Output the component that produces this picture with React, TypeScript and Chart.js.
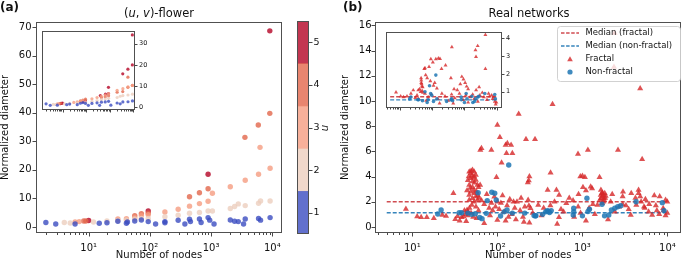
import React, { useEffect, useRef } from 'react';
import { Chart, registerables } from 'chart.js';

Chart.register(...registerables);

type P = [number, number];

const FONT = '"DejaVu Sans", Verdana, sans-serif';
const INK = '#111111';
const SPINE = '#505050';

// ---------------- Panel (a): (u,v)-flower ----------------
const uLevels = [1, 2, 3, 4, 5];
const uColors = [
  'rgba(59,76,192,0.8)',
  'rgba(236,206,190,0.8)',
  'rgba(245,156,129,0.8)',
  'rgba(226,102,75,0.8)',
  'rgba(180,4,38,0.8)',
];

const flowerU1: P[] = [[2, 1.6], [2.9, 1.05], [6, 1.05], [14.9, 1.3], [19.9, 1.5], [30, 2.0], [41.4, 1.3], [43, 1.75], [56.6, 2.1], [72.6, 2.45], [94, 1.9], [124, 1.05], [176, 1.9], [176, 1.5], [290, 2.35], [373, 1.05], [444, 2.7], [460, 1.9], [645, 2.8], [687, 1.6], [893, 3.3], [950, 2.4], [1117, 1.05], [2060, 2.45], [2420, 2.0], [2780, 1.9], [3390, 1.05], [3610, 2.8], [5960, 3.0], [6420, 2.4], [9200, 3.3]];
const flowerU2: P[] = [[4, 1.6], [5, 1.4], [12, 1.75], [19.9, 2.1], [30, 2.2], [41.4, 2.4], [56.6, 2.8], [72.6, 3.0], [94, 3.0], [176, 3.6], [290, 4.1], [444, 4.8], [645, 5.1], [893, 5.6], [1050, 5.6], [2060, 6.5], [2420, 7.2], [2780, 8.1], [3610, 7.5], [5960, 8.3], [6420, 9.1], [9200, 9.1]];
const flowerU3: P[] = [[6, 1.75], [7, 1.9], [30, 2.8], [41.4, 2.9], [56.6, 3.3], [72.6, 4.0], [94, 4.3], [176, 5.25], [290, 6.2], [444, 7.3], [645, 8.2], [893, 9.0], [1050, 11.8], [2060, 14.1], [3610, 16.4], [5960, 18.5], [9200, 20.6], [6300, 27.9]];
const flowerU4: P[] = [[8.3, 2.1], [9, 2.1], [56.6, 4.0], [72.6, 4.7], [94, 4.8], [444, 10.6], [645, 12.0], [893, 13.4], [3570, 31.4], [5900, 35.7], [9100, 39.8]];
const flowerU5: P[] = [[10, 2.3], [94, 5.6], [893, 18.5], [9100, 68.7]];

const flowerInsetU1: P[] = [[2, 1.6], [3, 0.9], [6, 1.0], [15, 1.2], [20, 1.5], [42, 1.2], [57, 1.9], [73, 2.2], [94, 1.8], [124, 0.9], [176, 1.8], [290, 2.1], [373, 0.9], [444, 2.4], [645, 2.5], [893, 2.8], [1117, 1.0], [2060, 2.0], [2780, 1.6], [3610, 2.5], [5960, 2.6], [9200, 3.0]];
const flowerInsetU2: P[] = [[4, 1.4], [5, 1.3], [12, 1.6], [20, 1.8], [42, 2.0], [94, 2.4], [176, 2.8], [290, 3.2], [444, 3.6], [645, 3.9], [893, 4.2], [2060, 4.6], [2780, 5.2], [3610, 5.5], [5960, 5.8], [9200, 6.2]];
const flowerInsetU3: P[] = [[6, 1.6], [7, 1.7], [30, 2.3], [42, 2.5], [57, 2.8], [73, 3.2], [176, 4.0], [290, 4.6], [444, 5.2], [645, 5.8], [893, 6.4], [2060, 8.0], [3610, 8.8], [5960, 9.6], [9200, 10.3]];
const flowerInsetU4: P[] = [[8.3, 1.9], [57, 3.0], [73, 3.4], [94, 3.8], [444, 4.6], [645, 5.0], [893, 5.4], [2060, 7.1], [3570, 7.4], [5900, 9.4], [5900, 14.2], [9100, 10.3]];
const flowerInsetU5: P[] = [[8, 1.7], [9, 1.8], [10, 2.0], [73, 2.6], [80, 2.8], [94, 3.0], [400, 5.5], [660, 6.2], [885, 6.5], [885, 9.4], [3570, 15.8], [5900, 18.0], [9100, 20.0], [9100, 34.2]];

const flowerMain = [flowerU1, flowerU2, flowerU3, flowerU4, flowerU5];
const flowerInset = [flowerInsetU1, flowerInsetU2, flowerInsetU3, flowerInsetU4, flowerInsetU5];
const flowerYTicks = [0, 10, 20, 30, 40, 50, 60, 70];
const flowerInsetYTicks = [0, 10, 20, 30];

// ---------------- Panel (b): real networks ----------------
const realFractal: P[] = [
  [8.4, 1.43], [11.4, 0.82], [12.7, 0.77], [14.8, 0.77], [17.9, 0.69], [22.5, 0.95], [24.9, 0.87], [30.4, 2.67], [32, 0.61], [34, 0.85], [36, 0.5], [38, 0.77], [40, 0.82], [41, 1.3], [42, 1.0], [43, 0.45], [44, 1.35], [45, 1.2],
  [46.7, 4.39], [48.7, 4.26], [51, 4.52], [53.3, 4.39], [55.8, 4.13], [53.3, 4.0], [48.7, 3.86], [51, 3.6], [55.8, 3.73], [58.3, 3.33], [46.7, 3.33], [51, 3.15], [53.3, 2.94], [48.7, 2.8], [60, 3.15], [62.7, 3.33], [46.7, 2.54], [53.3, 2.67], [55.8, 2.41], [51, 2.28], [58.3, 2.14], [46.7, 2.14], [53.3, 2.01], [50, 1.75], [56, 1.6], [47, 1.5], [60, 1.3], [49, 1.1], [45, 0.9], [52, 0.8], [57, 0.7], [44, 2.9], [45, 3.7], [50, 4.1], [54, 3.5], [57, 2.8], [59, 2.5], [61, 2.3], [48, 3.1], [52, 3.9], [46, 4.0], [49, 4.45],
  [63, 6.1], [65, 6.24], [85, 6.1], [97.6, 3.94], [100, 8.1], [107, 7.12], [125, 6.5], [131, 6.64], [145, 6.5], [128, 5.85], [150, 5.85], [112, 5.1], [178, 8.97], [217, 6.96], [234, 3.68], [228, 3.52], [238, 4.0], [277, 6.96],
  [65, 2.1], [70, 1.8], [75, 2.6], [80, 1.5], [85, 1.9], [88, 1.3], [92, 2.4], [95, 1.6], [100, 2.0], [105, 1.4], [110, 1.9], [115, 2.5], [120, 1.2], [125, 0.5], [130, 1.7], [140, 2.2], [148, 1.0], [160, 1.5], [170, 2.0], [185, 1.3], [200, 0.8], [210, 1.6], [70, 0.3], [100, 0.55], [82, 0.9], [135, 0.8], [190, 2.3], [165, 0.6], [205, 0.4], [155, 2.0], [230, 2.14], [235, 1.68], [245, 1.48], [238, 0.34], [260, 1.1], [302, 1.75], [330, 0.9],
  [445, 9.74], [422, 4.31], [390, 2.94], [495, 2.94], [532, 2.54], [505, 0.24], [530, 0.77], [350, 1.5], [420, 1.7], [470, 2.0], [600, 1.2], [646, 1.88], [700, 2.3], [776, 2.1], [800, 0.8], [887, 5.79], [890, 1.6], [945, 4.0], [1000, 4.05], [1070, 3.95], [1015, 3.15], [1100, 2.9], [1160, 6.1], [1200, 1.5], [1250, 3.2], [1300, 3.05], [1327, 1.8], [1400, 1.0], [1100, 0.5], [560, 1.4], [900, 2.6], [950, 1.1],
  [1500, 1.75], [1590, 3.95], [1600, 2.14], [1640, 2.54], [1650, 2.94], [1660, 2.28], [1700, 2.67], [1700, 1.88], [1720, 2.41], [1720, 2.7], [1750, 2.54], [1760, 2.01], [1780, 2.28], [1800, 2.14], [1830, 2.67], [1850, 2.3], [1880, 2.45], [2000, 0.6], [2150, 2.0], [2240, 2.6], [2400, 1.2], [2620, 6.1], [2700, 1.6], [2970, 2.41], [2970, 1.8], [3000, 2.8], [2390, 15.4], [2350, 12.7],
  [3250, 1.7], [3500, 1.4], [3700, 0.95], [3750, 2.67], [4200, 2.3], [4300, 1.75], [4570, 2.94], [4570, 2.67], [4775, 11.0], [4780, 2.41], [4900, 2.0], [5035, 5.37], [5300, 1.6], [5400, 1.5], [5500, 2.2], [6000, 1.2], [6100, 1.8], [6600, 0.95], [7000, 2.5], [7300, 1.7], [7500, 1.3], [8000, 1.0], [8100, 2.41], [8900, 1.48], [9000, 1.3], [9500, 2.14], [9500, 0.9], [9950, 1.1], [9950, 2.0],
];
const realNonFractal: P[] = [
  [19.9, 1.03], [21.8, 1.35], [35.6, 1.13], [38, 1.13], [45, 1.1], [50, 1.0], [55, 1.05], [59.4, 2.72], [62, 0.75], [66, 0.66], [74, 1.08], [76, 2.09], [86, 2.75], [93, 2.67], [97, 2.14], [109, 0.87], [120, 1.2], [130, 1.35], [136, 4.92], [150, 1.1], [210, 1.1], [270, 0.9], [280, 0.87], [284, 0.9], [340, 1.0], [370, 1.2], [385, 1.3], [400, 1.25], [410, 1.15], [430, 1.3], [780, 0.95], [790, 1.48], [790, 1.22], [1000, 0.88], [1130, 2.28], [1160, 1.22], [1210, 1.4], [1700, 1.8], [1820, 0.88], [2040, 0.95], [2190, 1.35], [2400, 1.48], [2600, 1.6], [2820, 1.68], [4270, 2.0], [8700, 1.93], [9100, 1.3],
];
const realInsetFractal: P[] = [
  [7.6, 0.97], [10.6, 0.75], [13, 0.7], [16.6, 0.74], [22, 0.9], [26, 1.09], [30, 0.66], [34, 0.8], [38, 0.6],
  [45.5, 1.77], [46, 1.65], [46, 1.5], [47, 1.43], [48, 1.3], [50.8, 1.26], [40.7, 1.15], [37, 1.09], [49, 1.05], [52, 0.95], [44, 1.0],
  [57, 2.29], [60, 2.33], [80, 2.4], [91, 2.84], [130, 2.84], [156, 2.88], [175, 2.86], [105, 2.66], [63, 1.94], [70, 1.77], [88, 1.6], [110, 1.35], [120, 1.5], [140, 1.2], [260, 2.49], [195, 2.29], [408, 3.52], [381, 1.77], [477, 1.15], [600, 1.1], [745, 1.43], [830, 1.85], [933, 1.7], [1050, 1.5], [1167, 1.3], [1300, 1.15], [2200, 3.35], [2570, 3.58], [2280, 2.97], [4460, 4.21], [4460, 2.29], [2300, 1.1], [2850, 1.26], [3570, 0.95], [5580, 0.9], [6980, 0.8], [7500, 0.6], [8730, 0.45], [9300, 0.3], [9770, 0.4], [6000, 0.75],
  [60, 0.9], [75, 0.7], [95, 0.85], [150, 0.6], [200, 0.9], [250, 0.75], [320, 0.5], [400, 0.85], [500, 0.65], [700, 0.9], [900, 0.55], [1100, 0.8], [1500, 0.7], [1800, 0.85], [2000, 0.6], [3000, 0.8], [4000, 0.7], [5000, 0.55], [8000, 0.7], [65, 0.5], [170, 0.35], [450, 0.35], [1300, 0.4], [2600, 0.45],
];
const realInsetNonFractal: P[] = [
  [20, 0.6], [22, 0.7], [36, 0.55], [38, 0.55], [50, 0.5], [60, 1.0], [70, 0.4], [75, 0.55], [83, 1.34], [90, 0.9], [97, 0.8], [110, 0.45], [130, 1.94], [140, 0.6], [280, 0.45], [380, 0.55], [400, 0.6], [430, 0.5], [790, 0.7], [800, 0.55], [1000, 0.4], [1130, 0.9], [1200, 0.6], [1700, 0.75], [1820, 0.4], [2040, 0.45], [2200, 0.6], [2600, 0.7], [2800, 0.75], [4270, 0.9], [8700, 0.85], [9100, 0.6],
];
const medianSpan = [5, 10400];
const medianFractal = 2.0;
const medianNonFractal = 1.13;
const insetMedianFractal = 0.72;
const insetMedianNonFractal = 0.55;
const realYTicks = [0, 2, 4, 6, 8, 10, 12, 14, 16];
const realInsetYTicks = [1, 2, 3, 4];
const legendLabels = ['Median (fractal)', 'Median (non-fractal)', 'Fractal', 'Non-fractal'];

const RED = 'rgba(214,39,40,0.8)';
const BLUE = 'rgba(31,119,180,0.85)';
const RED_LINE = 'rgba(200,45,50,0.85)';
const BLUE_LINE = 'rgba(31,119,180,0.9)';

// ---------------- helpers ----------------
const SUP = ['⁰', '¹', '²', '³', '⁴', '⁵'];
const xy = (pts: P[]) => pts.map(([x, y]) => ({ x, y }));

function logTicks(min: number, max: number) {
  const out: any[] = [];
  for (let e = Math.floor(Math.log10(min)); e <= Math.ceil(Math.log10(max)); e++) {
    for (let m = 1; m <= 9; m++) {
      const v = m * Math.pow(10, e);
      if (v >= min && v <= max) out.push({ value: v, major: m === 1 });
    }
  }
  return out;
}
function logLabel(v: number) {
  const e = Math.log10(v);
  const r = Math.round(e);
  return Math.abs(e - r) < 1e-6 ? '10' + SUP[r] : '';
}

function framePlugin(fill: boolean, majorLen: number, minorLen: number) {
  return {
    id: 'frame',
    beforeDraw(chart: any) {
      if (!fill) return;
      const a = chart.chartArea;
      const ctx = chart.ctx;
      ctx.save();
      ctx.fillStyle = '#ffffff';
      ctx.fillRect(a.left, a.top, a.right - a.left, a.bottom - a.top);
      ctx.restore();
    },
    afterDraw(chart: any) {
      const a = chart.chartArea;
      const ctx = chart.ctx;
      ctx.save();
      ctx.strokeStyle = SPINE;
      ctx.lineWidth = 1;
      ctx.strokeRect(Math.round(a.left) + 0.5, Math.round(a.top) + 0.5, Math.round(a.right - a.left) - 1, Math.round(a.bottom - a.top) - 1);
      ctx.strokeStyle = '#333333';
      ctx.lineWidth = 0.9;
      for (const s of Object.values(chart.scales) as any[]) {
        if (!s.options.display) continue;
        const pos = s.options.position;
        for (const t of s.ticks) {
          const p = s.getPixelForValue(t.value);
          const len = t.major === false ? minorLen : majorLen;
          ctx.beginPath();
          if (pos === 'bottom') {
            ctx.moveTo(Math.round(p) + 0.5, a.bottom);
            ctx.lineTo(Math.round(p) + 0.5, a.bottom + len);
          } else if (pos === 'left') {
            ctx.moveTo(a.left - len, Math.round(p) + 0.5);
            ctx.lineTo(a.left, Math.round(p) + 0.5);
          } else if (pos === 'right') {
            ctx.moveTo(a.right, Math.round(p) + 0.5);
            ctx.lineTo(a.right + len, Math.round(p) + 0.5);
          }
          ctx.stroke();
        }
      }
      ctx.restore();
    },
  };
}

function drawMixed(ctx: any, parts: [string, boolean][], cx: number, cy: number, size: number) {
  const fontOf = (it: boolean) => `${it ? 'italic ' : ''}${size}px ${FONT}`;
  let total = 0;
  for (const [t, it] of parts) {
    ctx.font = fontOf(it);
    total += ctx.measureText(t).width;
  }
  let x = cx - total / 2;
  ctx.textAlign = 'left';
  ctx.textBaseline = 'middle';
  for (const [t, it] of parts) {
    ctx.font = fontOf(it);
    ctx.fillText(t, x, cy);
    x += ctx.measureText(t).width;
  }
}

const baseOpts = {
  responsive: false,
  animation: false as const,
  devicePixelRatio: 1,
  events: [] as any[],
  plugins: { legend: { display: false }, tooltip: { enabled: false } },
};

function logX(min: number, max: number, height: number, size: number, labels: boolean, title?: string) {
  return {
    type: 'logarithmic',
    position: 'bottom',
    min,
    max,
    grid: { display: false, drawTicks: false, tickLength: 0 },
    border: { display: false },
    afterBuildTicks: (s: any) => { s.ticks = logTicks(min, max); },
    afterFit: (s: any) => { s.height = height; },
    ticks: {
      autoSkip: false,
      maxRotation: 0,
      padding: 9,
      color: INK,
      font: { family: FONT, size },
      callback: (v: number) => (labels ? logLabel(v) : ''),
    },
    title: title
      ? { display: true, text: title, color: INK, font: { family: FONT, size: 10, lineHeight: 1 }, padding: { top: 0, bottom: -2 } }
      : { display: false },
  };
}

function linY(min: number, max: number, ticks: number[], width: number, size: number, position: string, pad: number, title?: string) {
  return {
    type: 'linear',
    position,
    min,
    max,
    grid: { display: false, drawTicks: false, tickLength: 0 },
    border: { display: false },
    afterBuildTicks: (s: any) => { s.ticks = ticks.map((v) => ({ value: v })); },
    afterFit: (s: any) => { s.width = width; },
    ticks: { padding: pad, color: INK, font: { family: FONT, size }, callback: (v: number) => String(v) },
    title: title
      ? { display: true, text: title, color: INK, font: { family: FONT, size: 10, lineHeight: 1 }, padding: { top: 0, bottom: 0 } }
      : { display: false },
  };
}

// ---------------- chart configs ----------------
const textA = {
  id: 'textA',
  afterDraw(chart: any) {
    const ctx = chart.ctx;
    ctx.save();
    ctx.fillStyle = INK;
    ctx.font = `bold 12px ${FONT}`;
    ctx.textAlign = 'left';
    ctx.textBaseline = 'middle';
    ctx.fillText('(a)', 0, 8);
    drawMixed(ctx, [['(', false], ['u', true], [', ', false], ['v', true], [')-flower', false]], 159, 14, 11.5);
    ctx.restore();
  },
};

function mainAConfig() {
  return {
    type: 'scatter',
    data: {
      datasets: uLevels.map((u, i) => ({
        label: `u = ${u}`,
        data: xy(flowerMain[i]),
        backgroundColor: uColors[i],
        borderWidth: 0,
        pointRadius: 2.7,
        pointHoverRadius: 2.7,
      })),
    },
    options: {
      ...baseOpts,
      layout: { padding: { left: 0, top: 22, right: 8, bottom: 0 } },
      scales: {
        x: logX(1.38, 14390, 25, 10, true, 'Number of nodes'),
        y: linY(-2.1, 71.8, flowerYTicks, 36, 10, 'left', 4.5, 'Normalized diameter'),
      },
    },
    plugins: [framePlugin(false, 3.5, 2), textA],
  };
}

function insetAConfig() {
  return {
    type: 'scatter',
    data: {
      datasets: uLevels.map((u, i) => ({
        label: `u = ${u}`,
        data: xy(flowerInset[i]),
        backgroundColor: uColors[i],
        borderWidth: 0,
        pointRadius: 1.6,
        pointHoverRadius: 1.6,
      })),
    },
    options: {
      ...baseOpts,
      layout: { padding: { left: 1, top: 1, right: 0, bottom: 0 } },
      scales: {
        x: logX(1.38, 11800, 8, 6, false),
        y: linY(-1.3, 36.1, flowerInsetYTicks, 27, 6.5, 'right', 4),
      },
    },
    plugins: [framePlugin(true, 2.5, 1.5)],
  };
}

const colorbarText = {
  id: 'cbText',
  afterDraw(chart: any) {
    const ctx = chart.ctx;
    ctx.save();
    ctx.fillStyle = INK;
    ctx.translate(35.5, 128);
    ctx.rotate(-Math.PI / 2);
    ctx.font = `italic 10px ${FONT}`;
    ctx.textAlign = 'center';
    ctx.textBaseline = 'middle';
    ctx.fillText('u', 0, 0);
    ctx.restore();
  },
};

function colorbarConfig() {
  return {
    type: 'bar',
    data: {
      labels: [''],
      datasets: uLevels.map((u, i) => ({
        label: `u = ${u}`,
        data: [[u - 0.5, u + 0.5]],
        backgroundColor: uColors[i],
        borderWidth: 0,
        grouped: false,
        barPercentage: 1,
        categoryPercentage: 1,
      })),
    },
    options: {
      ...baseOpts,
      layout: { padding: { left: 7, top: 21, right: 0, bottom: 24 } },
      scales: {
        x: { display: false },
        y: linY(0.5, 5.5, uLevels, 41, 9.5, 'right', 4.5),
      },
    },
    plugins: [framePlugin(false, 3.5, 2), colorbarText],
  };
}

function trianglePath(ctx: any, x: number, y: number, r: number) {
  ctx.beginPath();
  for (let k = 0; k < 3; k++) {
    const ang = (k * 2 * Math.PI) / 3;
    const px = x + Math.sin(ang) * r;
    const py = y - Math.cos(ang) * r;
    if (k === 0) ctx.moveTo(px, py); else ctx.lineTo(px, py);
  }
  ctx.closePath();
}

const textB = {
  id: 'textB',
  afterDraw(chart: any) {
    const ctx = chart.ctx;
    ctx.save();
    ctx.fillStyle = INK;
    ctx.font = `bold 12px ${FONT}`;
    ctx.textAlign = 'left';
    ctx.textBaseline = 'middle';
    ctx.fillText('(b)', 3, 8);
    drawMixed(ctx, [['Real networks', false]], 189, 14, 11.5);

    // legend
    const bx = 217, by = 26, bw = 123, bh = 55;
    ctx.beginPath();
    ctx.roundRect(bx + 0.5, by + 0.5, bw, bh, 3);
    ctx.fillStyle = 'rgba(255,255,255,0.8)';
    ctx.fill();
    ctx.strokeStyle = 'rgba(204,204,204,0.9)';
    ctx.lineWidth = 1;
    ctx.stroke();
    const rowsY = [33, 46, 59, 72];
    ctx.font = `8.5px ${FONT}`;
    for (let i = 0; i < 4; i++) {
      const y = rowsY[i];
      if (i < 2) {
        ctx.save();
        ctx.strokeStyle = i === 0 ? RED_LINE : BLUE_LINE;
        ctx.lineWidth = 1.5;
        ctx.setLineDash([3.5, 1.6]);
        ctx.beginPath();
        ctx.moveTo(221, y);
        ctx.lineTo(239, y);
        ctx.stroke();
        ctx.restore();
      } else if (i === 2) {
        ctx.fillStyle = RED;
        trianglePath(ctx, 230, y + 0.5, 3.3);
        ctx.fill();
      } else {
        ctx.fillStyle = BLUE;
        ctx.beginPath();
        ctx.arc(230, y, 2.6, 0, Math.PI * 2);
        ctx.fill();
      }
      ctx.fillStyle = INK;
      ctx.textBaseline = 'middle';
      ctx.fillText(legendLabels[i], 245.5, y);
    }
    ctx.restore();
  },
};

function realDatasets(fr: P[], nf: P[], mf: number, mn: number, triR: number, dotR: number, lw: number) {
  const line = (v: number, color: string, label: string) => ({
    type: 'line',
    label,
    data: medianSpan.map((x) => ({ x, y: v })),
    borderColor: color,
    borderWidth: lw,
    borderDash: [4, 2],
    pointRadius: 0,
    showLine: true,
    fill: false,
    order: 3,
  });
  return [
    line(mf, RED_LINE, legendLabels[0]),
    line(mn, BLUE_LINE, legendLabels[1]),
    {
      label: legendLabels[2],
      data: xy(fr),
      pointStyle: 'triangle',
      backgroundColor: RED,
      borderWidth: 0,
      pointRadius: triR,
      pointHoverRadius: triR,
      order: 2,
    },
    {
      label: legendLabels[3],
      data: xy(nf),
      pointStyle: 'circle',
      backgroundColor: BLUE,
      borderWidth: 0,
      pointRadius: dotR,
      pointHoverRadius: dotR,
      order: 1,
    },
  ];
}

function mainBConfig() {
  return {
    type: 'scatter',
    data: { datasets: realDatasets(realFractal, realNonFractal, medianFractal, medianNonFractal, 3.5, 2.7, 1.6) },
    options: {
      ...baseOpts,
      layout: { padding: { left: 0, top: 22, right: 1, bottom: 0 } },
      scales: {
        x: logX(3.64, 14560, 25, 10, true, 'Number of nodes'),
        y: linY(-0.48, 16.27, realYTicks, 35, 10, 'left', 3.5, 'Normalized diameter'),
      },
    },
    plugins: [framePlugin(false, 3.5, 2), textB],
  };
}

function insetBConfig() {
  return {
    type: 'scatter',
    data: { datasets: realDatasets(realInsetFractal, realInsetNonFractal, insetMedianFractal, insetMedianNonFractal, 2.3, 1.8, 1.3) },
    options: {
      ...baseOpts,
      layout: { padding: { left: 1, top: 1, right: 0, bottom: 0 } },
      scales: {
        x: logX(3.64, 14560, 8, 6, false),
        y: linY(0.088, 4.37, realInsetYTicks, 16, 6.5, 'right', 4),
      },
    },
    plugins: [framePlugin(true, 2.5, 1.5)],
  };
}

function ChartBox({ left, top, width, height, make }: { left: number; top: number; width: number; height: number; make: () => any }) {
  const ref = useRef<HTMLCanvasElement>(null);
  useEffect(() => {
    const chart = new Chart(ref.current as HTMLCanvasElement, make());
    return () => chart.destroy();
  }, []);
  return (
    <canvas
      ref={ref}
      width={width}
      height={height}
      style={{ position: 'absolute', left, top, width, height, display: 'block' }}
    />
  );
}

export default function App() {
  return (
    <div style={{ position: 'fixed', left: 0, top: 0, width: 685, height: 258, background: '#ffffff', overflow: 'hidden' }}>
      <ChartBox left={0} top={0} width={290} height={258} make={mainAConfig} />
      <ChartBox left={290} top={0} width={60} height={258} make={colorbarConfig} />
      <ChartBox left={37} top={23} width={125} height={95} make={insetAConfig} />
      <ChartBox left={340} top={0} width={345} height={258} make={mainBConfig} />
      <ChartBox left={378} top={24} width={140} height={92} make={insetBConfig} />
    </div>
  );
}
